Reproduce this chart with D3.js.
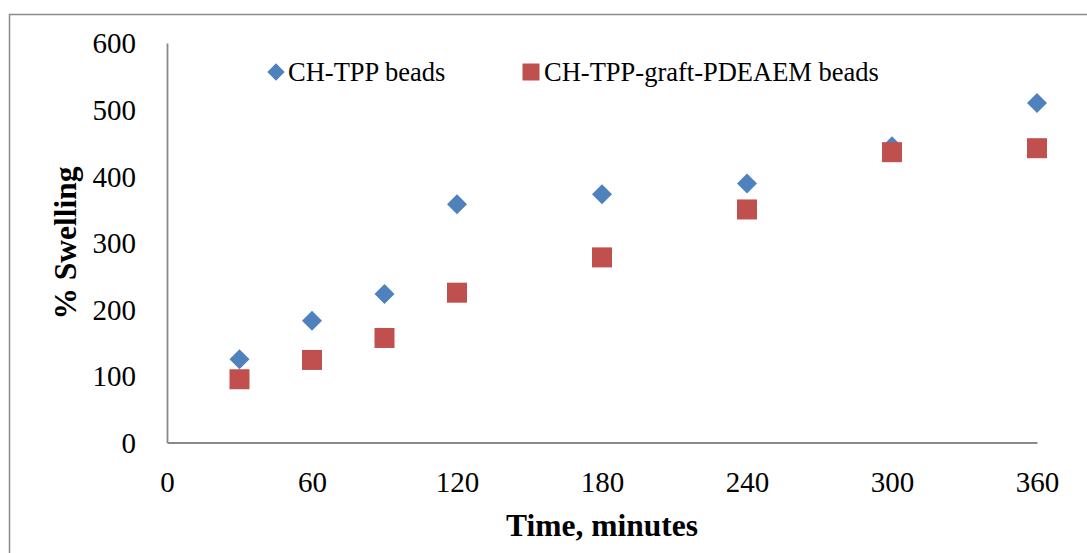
<!DOCTYPE html>
<html>
<head>
<meta charset="utf-8">
<script src="https://cdn.jsdelivr.net/npm/d3@7"></script>
<style>
  html, body { margin: 0; padding: 0; background: #fff; }
  svg { display: block; }
  text { font-family: "Liberation Serif", "Times New Roman", serif; fill: #000; }
</style>
</head>
<body>
<svg id="chart" width="1087" height="553"></svg>
<script>
const times = [30, 60, 90, 120, 180, 240, 300, 360];
const chTpp = [125, 183, 223, 358, 373, 389, 445, 510];
const chTppGraft = [95, 124, 157, 225, 278, 350, 436, 442];
const xTicks = [0, 60, 120, 180, 240, 300, 360];
const yTicks = [0, 100, 200, 300, 400, 500, 600];
const seriesNames = ["CH-TPP beads", "CH-TPP-graft-PDEAEM beads"];
const colors = ["#4F81BD", "#C0504D"];

const svg = d3.select("#chart");

// outer chart border (extends off right/bottom)
svg.append("rect").attr("x", 9.5).attr("y", 14.5).attr("width", 1200).attr("height", 700)
  .attr("fill", "none").attr("stroke", "#8c8c8c").attr("stroke-width", 1.5);

const x = d3.scaleLinear().domain([0, 360]).range([167, 1037]);
const y = d3.scaleLinear().domain([0, 600]).range([442.5, 43]);

// axes
const xAxis = d3.axisBottom(x).tickValues(xTicks).tickSize(0).tickPadding(0);
const gx = svg.append("g").attr("transform", `translate(0,${y(0)})`).call(xAxis);
gx.select(".domain").attr("stroke", "#898989").attr("stroke-width", 1.8);
gx.selectAll("text").attr("font-size", 29).attr("y", 0).attr("dy", 49)
  .style("font-family", '"Liberation Serif", serif');

const yAxis = d3.axisLeft(y).tickValues(yTicks).tickSize(0).tickPadding(0);
const gy = svg.append("g").attr("transform", `translate(${x(0)},0)`).call(yAxis);
gy.select(".domain").attr("stroke", "#898989").attr("stroke-width", 1.8);
gy.selectAll("text").attr("font-size", 29).attr("x", -31).attr("dy", "0.34em")
  .style("font-family", '"Liberation Serif", serif');

// axis titles
svg.append("text").attr("x", 602).attr("y", 536).attr("text-anchor", "middle")
  .attr("font-size", 31.5).attr("font-weight", "bold").text("Time, minutes");
svg.append("text").attr("transform", "translate(76,243) rotate(-90)").attr("text-anchor", "middle")
  .attr("font-size", 31.5).attr("font-weight", "bold").text("% Swelling");

// markers
const data1 = times.map((t, i) => ({ t, v: chTpp[i] }));
const data2 = times.map((t, i) => ({ t, v: chTppGraft[i] }));

svg.append("g").selectAll("path").data(data1).join("path")
  .attr("d", d3.symbol().type(d3.symbolSquare).size(200))
  .attr("transform", d => `translate(${x(d.t)},${y(d.v)}) rotate(45)`)
  .attr("fill", colors[0]);

svg.append("g").selectAll("rect").data(data2).join("rect")
  .attr("x", d => x(d.t) - 10).attr("y", d => y(d.v) - 10)
  .attr("width", 20).attr("height", 20)
  .attr("fill", colors[1]);

// legend
const lg = svg.append("g");
lg.append("path").attr("d", d3.symbol().type(d3.symbolSquare).size(150))
  .attr("transform", "translate(276,72) rotate(45)").attr("fill", colors[0]);
lg.append("text").attr("x", 288).attr("y", 81).attr("font-size", 26.5).text(seriesNames[0]);
lg.append("rect").attr("x", 522.5).attr("y", 63.5).attr("width", 17).attr("height", 17).attr("fill", colors[1]);
lg.append("text").attr("x", 544).attr("y", 81).attr("font-size", 26.5).text(seriesNames[1]);
</script>
</body>
</html>
